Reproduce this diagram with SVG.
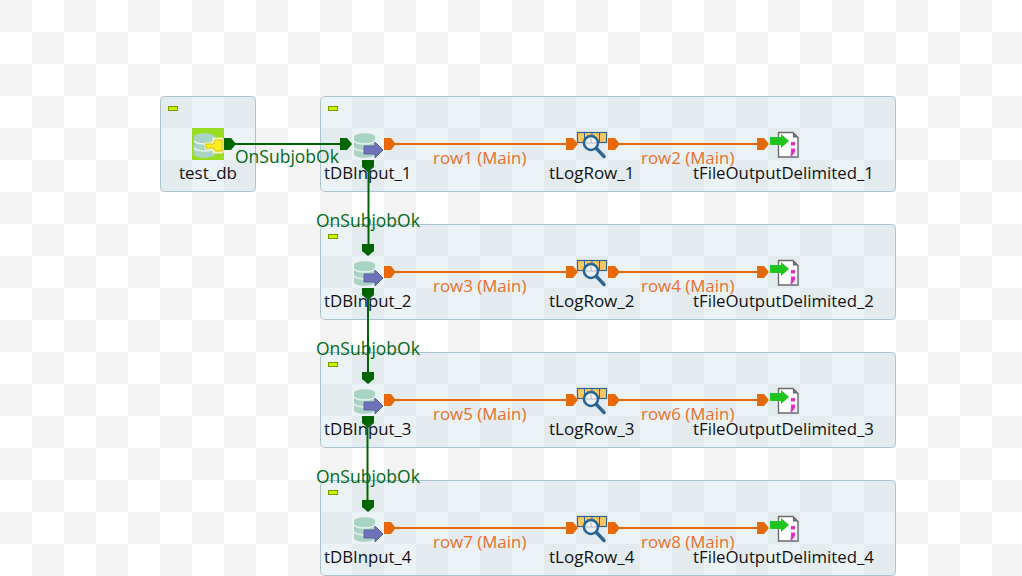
<svg xmlns="http://www.w3.org/2000/svg" width="1022" height="576" viewBox="0 0 1022 576">
<style>
.t{font-family:"Open Sans","Noto Sans","Liberation Sans",sans-serif}
.n{fill:#111;font-size:17px}
.f{fill:#111;font-size:16.8px}
.g{fill:#006a1a;font-size:17.5px}
.o{fill:#e8702a;font-size:16.9px}
.sj{fill:url(#sjp);stroke:#aec3d0;stroke-width:1}
.mk{fill:#c8f000;stroke:#7a9a00;stroke-width:1}
.ln-g{stroke:#006400;stroke-width:2;fill:none}
.ln-o{stroke:#e66a0a;stroke-width:2;fill:none}
</style>
<defs>
<pattern id="bg" width="64" height="64" patternUnits="userSpaceOnUse"><rect width="64" height="64" fill="#fff"/><rect width="32" height="32" fill="#f3f3f3"/><rect x="32" y="32" width="32" height="32" fill="#f3f3f3"/></pattern>
<pattern id="sjp" width="64" height="64" patternUnits="userSpaceOnUse"><rect width="64" height="64" fill="#ecf3f7"/><rect width="32" height="32" fill="#e4ebef"/><rect x="32" y="32" width="32" height="32" fill="#e4ebef"/></pattern>
<path id="pr" d="M0 -6H7L12 0L7 6H0Z"/>
<path id="pd" d="M-6 0V7L0 12L6 7V0Z"/>
<g id="cyl">
<path d="M2 9C2 4 23 4 23 9V26C23 31 2 31 2 26Z" fill="#a9d3c2"/>
<path d="M2 13C6 17 19 17 23 13M2 20C6 24 19 24 23 20" fill="none" stroke="#e6f1ee" stroke-width="1.6"/>
</g>
<g id="i-db"><use href="#cyl"/><path d="M12 18H23V14L31 22L23 30V26H12Z" fill="#6d72b9" stroke="#5a60a8" stroke-width="1"/></g>
<g id="i-key"><rect width="32" height="32" fill="#99dc22"/><use href="#cyl"/><path d="M14 16H22V11H30V24H22V20H14Z" fill="#eef8a8" stroke="#f0f7b8" stroke-width="3" stroke-linejoin="round"/><path d="M14 16H22L23 12H30V23H23L22 20H14Z" fill="#ffee22" stroke="#e0c000" stroke-width="1"/></g>
<g id="i-log"><rect x="0.500" y="0.500" width="29" height="10" fill="#ffc864" stroke="#2f6690" stroke-width="1.2"/><path d="M7.500 1V10M15 1V5M22.500 1V10" stroke="#2f6690" stroke-width="1"/><circle cx="14" cy="11" r="7" fill="#eaf1f4" stroke="#2c6594" stroke-width="2.6"/><path d="M14 6V11M9 11H19" stroke="#bbb" stroke-width="1"/><path d="M19.500 16.500L27 24.500" stroke="#2c6594" stroke-width="3.4" stroke-linecap="round"/></g>
<g id="i-file"><path d="M10.500 4.500H25L30 9.500V29H10.500Z" fill="#fff" stroke="#6a6a72" stroke-width="1.400"/><path d="M25 4.500V9.500H30Z" fill="#6a6a72"/><rect x="23" y="14" width="4" height="3.500" fill="#e82bc8"/><path d="M23 20.500H27V24L24 28H22.500L23 24Z" fill="#e82bc8"/><path d="M2 9H13V6L21 13L13 20V17H2Z" fill="#1fc41f"/></g>
</defs>
<rect width="1022" height="576" fill="url(#bg)"/>

<g id="subjob_0"><rect class="sj" x="160.5" y="96.5" width="95" height="95" rx="4"/><rect class="mk" x="168.5" y="106.5" width="9" height="4"/></g>
<g id="subjob_1"><rect class="sj" x="320.5" y="96.5" width="575" height="95" rx="4"/><rect class="mk" x="328.5" y="106.5" width="9" height="4"/></g>
<g id="subjob_2"><rect class="sj" x="320.5" y="224.5" width="575" height="95" rx="4"/><rect class="mk" x="328.5" y="234.5" width="9" height="4"/></g>
<g id="subjob_3"><rect class="sj" x="320.5" y="352.5" width="575" height="95" rx="4"/><rect class="mk" x="328.5" y="362.5" width="9" height="4"/></g>
<g id="subjob_4"><rect class="sj" x="320.5" y="480.5" width="575" height="95" rx="4"/><rect class="mk" x="328.5" y="490.5" width="9" height="4"/></g>

<g id="node_test_db"><use href="#i-key" x="192" y="128"/><text class="t n" x="179" y="179">test_db</text></g>
<g id="node_tDBInput_1"><use href="#i-db" x="352" y="128"/><text class="t f" x="324" y="179">tDBInput_1</text></g>
<g id="node_tLogRow_1"><use href="#i-log" x="577" y="132"/><text class="t n" x="549" y="179">tLogRow_1</text></g>
<g id="node_tFileOutputDelimited_1"><use href="#i-file" x="768" y="128"/><text class="t f" x="693" y="179">tFileOutputDelimited_1</text></g>
<g id="node_tDBInput_2"><use href="#i-db" x="352" y="256"/><text class="t f" x="324" y="307">tDBInput_2</text></g>
<g id="node_tLogRow_2"><use href="#i-log" x="577" y="260"/><text class="t n" x="549" y="307">tLogRow_2</text></g>
<g id="node_tFileOutputDelimited_2"><use href="#i-file" x="768" y="256"/><text class="t f" x="693" y="307">tFileOutputDelimited_2</text></g>
<g id="node_tDBInput_3"><use href="#i-db" x="352" y="384"/><text class="t f" x="324" y="435">tDBInput_3</text></g>
<g id="node_tLogRow_3"><use href="#i-log" x="577" y="388"/><text class="t n" x="549" y="435">tLogRow_3</text></g>
<g id="node_tFileOutputDelimited_3"><use href="#i-file" x="768" y="384"/><text class="t f" x="693" y="435">tFileOutputDelimited_3</text></g>
<g id="node_tDBInput_4"><use href="#i-db" x="352" y="512"/><text class="t f" x="324" y="563">tDBInput_4</text></g>
<g id="node_tLogRow_4"><use href="#i-log" x="577" y="516"/><text class="t n" x="549" y="563">tLogRow_4</text></g>
<g id="node_tFileOutputDelimited_4"><use href="#i-file" x="768" y="512"/><text class="t f" x="693" y="563">tFileOutputDelimited_4</text></g>

<g id="connectors">
<g fill="#006400">
<path class="ln-g" d="M230 144H346"/><use href="#pr" x="224" y="144"/><use href="#pr" x="340" y="144"/>
<path class="ln-g" d="M368.5 165V250"/><use href="#pd" x="368" y="160"/><use href="#pd" x="368" y="244"/>
<path class="ln-g" d="M368 293V378"/><use href="#pd" x="368" y="288"/><use href="#pd" x="368" y="372"/>
<path class="ln-g" d="M367.500 421V506"/><use href="#pd" x="368" y="416"/><use href="#pd" x="368" y="500"/>
</g>
<g fill="#e66a0a">
<path class="ln-o" d="M390 144H572M614 144H763"/><use href="#pr" x="384" y="144"/><use href="#pr" x="566" y="144"/><use href="#pr" x="608" y="144"/><use href="#pr" x="757" y="144"/>
<path class="ln-o" d="M390 272H572M614 272H763"/><use href="#pr" x="384" y="272"/><use href="#pr" x="566" y="272"/><use href="#pr" x="608" y="272"/><use href="#pr" x="757" y="272"/>
<path class="ln-o" d="M390 400H572M614 400H763"/><use href="#pr" x="384" y="400"/><use href="#pr" x="566" y="400"/><use href="#pr" x="608" y="400"/><use href="#pr" x="757" y="400"/>
<path class="ln-o" d="M390 528H572M614 528H763"/><use href="#pr" x="384" y="528"/><use href="#pr" x="566" y="528"/><use href="#pr" x="608" y="528"/><use href="#pr" x="757" y="528"/>
</g>
<text class="t g" x="235" y="163">OnSubjobOk</text>
<text class="t g" x="316" y="227">OnSubjobOk</text>
<text class="t g" x="316" y="355">OnSubjobOk</text>
<text class="t g" x="316" y="483">OnSubjobOk</text>
<text class="t o" x="433" y="164">row1 (Main)</text><text class="t o" x="641" y="164">row2 (Main)</text>
<text class="t o" x="433" y="292">row3 (Main)</text><text class="t o" x="641" y="292">row4 (Main)</text>
<text class="t o" x="433" y="420">row5 (Main)</text><text class="t o" x="641" y="420">row6 (Main)</text>
<text class="t o" x="433" y="548">row7 (Main)</text><text class="t o" x="641" y="548">row8 (Main)</text>
</g>
</svg>
